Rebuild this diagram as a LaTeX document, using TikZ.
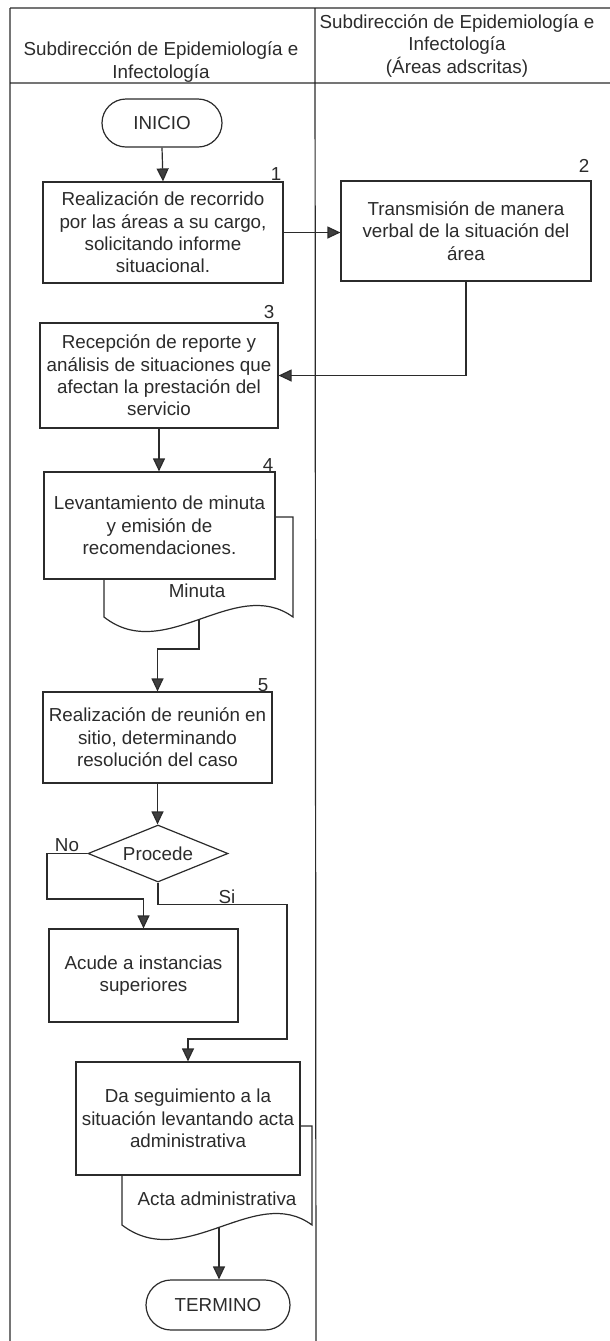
\documentclass[tikz,border=0pt]{standalone}
\usepackage{fontspec}
\setmainfont{Liberation Sans}
\usepackage{tikz}
\usetikzlibrary{arrows.meta,shapes.geometric}
\definecolor{ink}{HTML}{2B2B2B}
\definecolor{tipc}{HTML}{3F3F3F}
\tikzset{
  ar/.style={-{Triangle[length=6.5pt,width=6pt,fill=tipc]},line width=0.6pt,draw=ink},
  box/.style={draw=ink,line width=0.6pt,fill=white,align=center,inner sep=0pt},
  term/.style={box,rounded corners=12pt},
  dec/.style={box,diamond,aspect=2.45},
  num/.style={inner sep=0pt,text=ink},
  lane/.style={line width=0.6pt,draw=ink}
}
\begin{document}
\begin{tikzpicture}[x=0.5pt,y=-0.5pt,font=\fontsize{9.4}{11.2}\selectfont,text=ink]
\useasboundingbox (0,0) rectangle (610,1341);
% carriles
\draw[lane] (10,8) -- (610,8) (10,83) -- (610,83) (10,8) -- (10,1341) (315,8) -- (316,1341);
\node[align=center] (h1) at (161,62) {Subdirección de Epidemiología e\\Infectología};
\node[align=center] (h2) at (457,46) {Subdirección de Epidemiología e\\Infectología\\(Áreas adscritas)};
% documentos
\draw[lane,fill=white] (104,517) -- (293,517) -- (293,617) .. controls (235,575) and (165,665) .. (104,617) -- cycle;
\coordinate (m4) at (199,619);
\node (minuta) at (197,591) {Minuta};
\draw[lane,fill=white] (122,1126) -- (312,1126) -- (312,1225) .. controls (255,1183) and (185,1273) .. (122,1225) -- cycle;
\coordinate (m7) at (219,1227);
\node (acta) at (217,1199) {Acta administrativa};
% pasos
\node[term,minimum width=60pt,minimum height=24pt] (ini) at (162,123) {INICIO};
\node[box,minimum width=120pt,minimum height=50.5pt] (p1) at (163,232.5) {Realización de recorrido\\por las áreas a su cargo,\\solicitando informe\\situacional.};
\node[box,minimum width=125pt,minimum height=50pt] (p2) at (466,231) {Transmisión de manera\\verbal de la situación del\\área};
\node[box,minimum width=119pt,minimum height=52.5pt] (p3) at (159,375.5) {Recepción de reporte y\\análisis de situaciones que\\afectan la prestación del\\servicio};
\node[box,minimum width=115.5pt,minimum height=53.5pt] (p4) at (159.5,525.5) {Levantamiento de minuta\\y emisión de\\recomendaciones.};
\node[box,minimum width=114.5pt,minimum height=45.5pt] (p5) at (157.5,737.5) {Realización de reunión en\\sitio, determinando\\resolución del caso};
\node[dec,minimum width=70pt,minimum height=28.5pt] (dec) at (158,853.5) {Procede};
\node[box,minimum width=94.5pt,minimum height=46.5pt] (p6) at (143.5,975.5) {Acude a instancias\\superiores};
\node[box,minimum width=112pt,minimum height=56.5pt] (p7) at (188,1118.5) {Da seguimiento a la\\situación levantando acta\\administrativa};
\node[term,minimum width=72pt,minimum height=25pt,rounded corners=12.5pt] (fin) at (218,1305) {TERMINO};
\foreach \n/\x/\y in {1/276/174,2/584/166,3/269/312,4/268/465,5/263/685}{
  \node[num] (n\n) at (\x,\y) {\n};}
\node (no) at (67,845) {No};
\node (si) at (227,897) {Si};
% conectores
\draw[ar] (ini.south) -- (p1.north);
\draw[ar] (p1.east) -- (p1.east-|p2.west);
\draw[ar] (p2.south) |- (p3.east);
\draw[ar] (p3.south) -- (p3.south|-p4.north);
\draw[ar] (m4) -- ++(0,30) -| (p5.north);
\draw[ar] (p5.south) -- (p5.south|-dec.north);
\draw[ar] (dec.west) -| (47,899) -| (p6.north);
\draw[ar] (dec.south) -- ++(0,22) -| (287,1039) -| (p7.north);
\draw[ar] (m7) -- (m7|-fin.north);
\end{tikzpicture}
\end{document}
